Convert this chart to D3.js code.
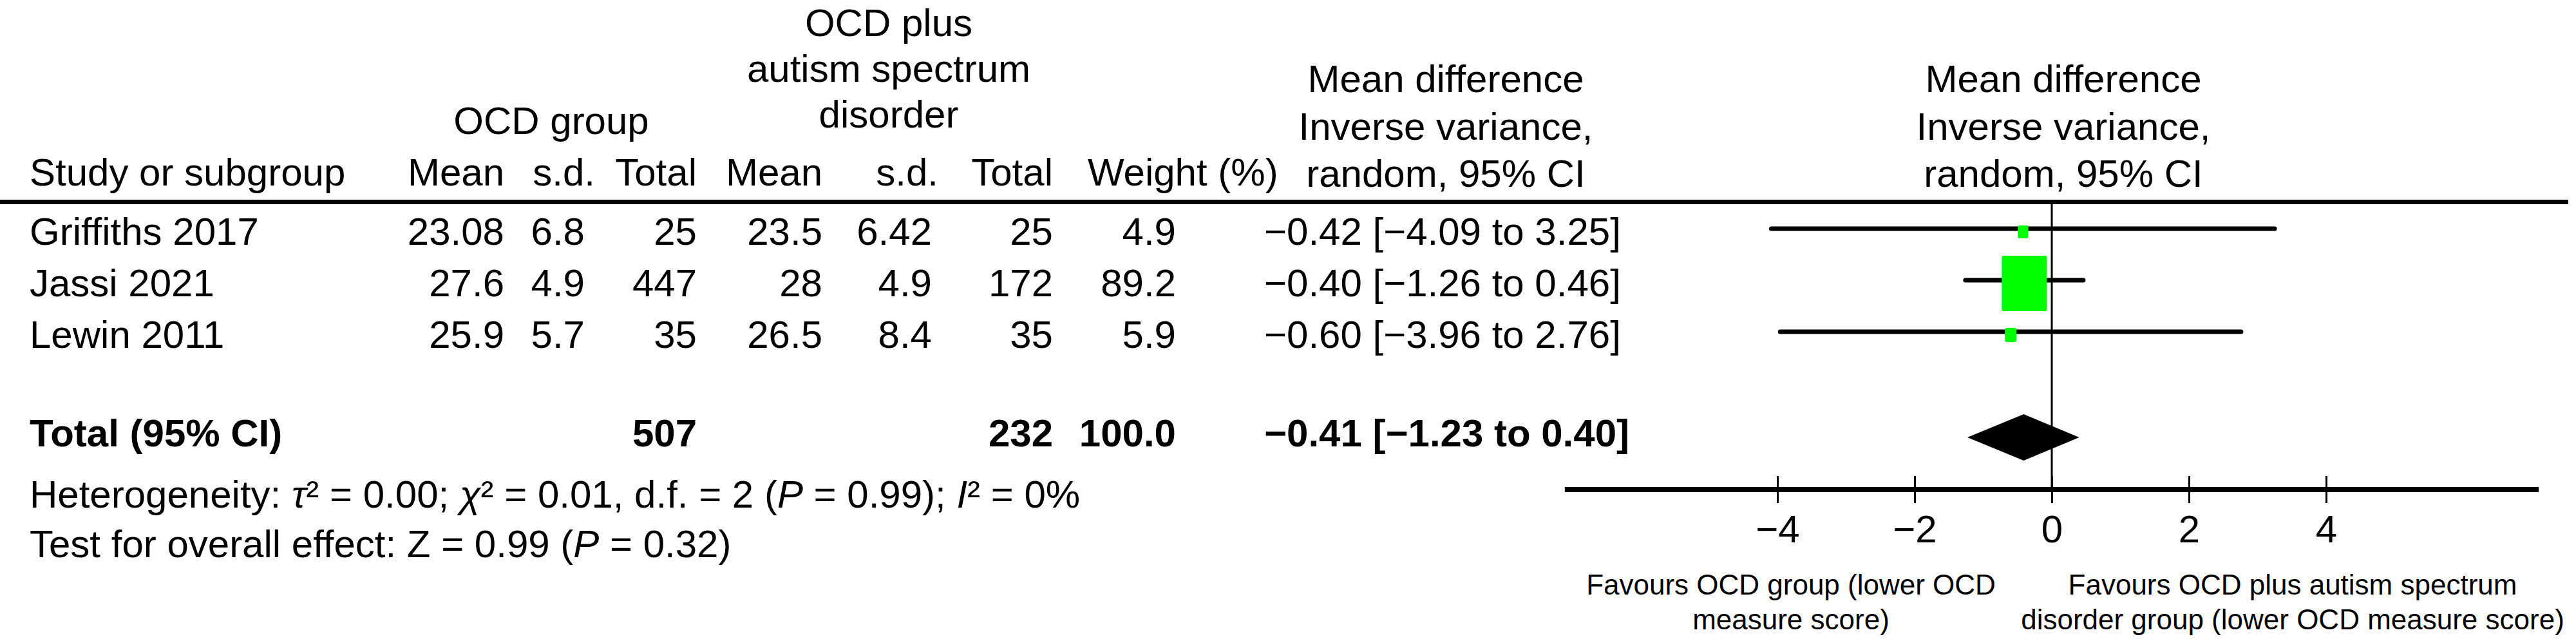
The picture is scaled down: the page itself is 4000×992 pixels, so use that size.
<!DOCTYPE html>
<html>
<head>
<meta charset="utf-8">
<script src="https://cdn.jsdelivr.net/npm/d3@7"></script>
<style>
  body { margin: 0; background: #fff; }
  text { font-family: "Liberation Sans", Arial, sans-serif; fill: #000; }
</style>
</head>
<body>
<div id="forest"></div>
<script>

// data
var studies = ["Griffiths 2017", "Jassi 2021", "Lewin 2011"];
var ocdMean = [23.08, 27.6, 25.9];
var ocdSd = [6.8, 4.9, 5.7];
var ocdN = [25, 447, 35];
var asdMean = [23.5, 28, 26.5];
var asdSd = [6.42, 4.9, 8.4];
var asdN = [25, 172, 35];
var weights = [4.9, 89.2, 5.9];
var meanDiff = [-0.42, -0.40, -0.60];
var ciLow = [-4.09, -1.26, -3.96];
var ciHigh = [3.25, 0.46, 2.76];

var totalOcdN = 507, totalAsdN = 232, totalWeight = 100.0;
var totalMd = -0.41, totalLow = -1.23, totalHigh = 0.40;

var xTicks = [-4, -2, 0, 2, 4];

var W = 4000, H = 992;
var fs = 60;

var svg = d3.select("#forest").append("svg")
    .attr("width", W)
    .attr("height", H);

svg.append("rect").attr("width", W).attr("height", H).attr("fill", "#fff");

var f2 = d3.format(".2f"), f1 = d3.format(".1f");
function ciText(m, lo, hi) {
    return f2(m) + " [" + f2(lo) + " to " + f2(hi) + "]";
}

// row positions (text baselines)
var rowY = d3.scaleLinear().domain([0, 1]).range([380, 460]);
var totalY = 693;

//////////
// HEADERS //
//////////

function label(x, y, txt, anchor, size, weight) {
    return svg.append("text")
        .attr("x", x).attr("y", y)
        .attr("text-anchor", anchor || "start")
        .style("font-size", (size || fs) + "px")
        .style("font-weight", weight || "normal")
        .text(txt);
}

label(856, 208, "OCD group", "middle");
["OCD plus", "autism spectrum", "disorder"].forEach(function (t, i) {
    label(1380, 56 + i * 71, t, "middle");
});
["Mean difference", "Inverse variance,", "random, 95% CI"].forEach(function (t, i) {
    label(2245, 143 + i * 73.5, t, "middle");
    label(3204, 143 + i * 73.5, t, "middle");
});

var headY = 288;
label(46, headY, "Study or subgroup");
label(783, headY, "Mean", "end");
label(924, headY, "s.d.", "end");
label(1082, headY, "Total", "end");
label(1277, headY, "Mean", "end");
label(1457, headY, "s.d.", "end");
label(1635, headY, "Total", "end");
label(1689, headY, "Weight (%)");

// thick rule under header
svg.append("line")
    .attr("x1", 0).attr("x2", 3988)
    .attr("y1", 313.5).attr("y2", 313.5)
    .attr("stroke", "#000").attr("stroke-width", 7);

//////////
// TABLE ROWS //
//////////

var cols = [
    { x: 783, a: "end", v: function (i) { return ocdMean[i]; } },
    { x: 908, a: "end", v: function (i) { return ocdSd[i]; } },
    { x: 1082, a: "end", v: function (i) { return ocdN[i]; } },
    { x: 1277, a: "end", v: function (i) { return asdMean[i]; } },
    { x: 1447, a: "end", v: function (i) { return asdSd[i]; } },
    { x: 1635, a: "end", v: function (i) { return asdN[i]; } },
    { x: 1826, a: "end", v: function (i) { return f1(weights[i]); } },
    { x: 1963, a: "start", v: function (i) { return ciText(meanDiff[i], ciLow[i], ciHigh[i]); } }
];

var rows = svg.selectAll(".row")
    .data(studies)
    .enter()
    .append("g")
    .attr("class", "row")
    .attr("transform", function (d, i) { return "translate(0," + rowY(i) + ")"; });

rows.append("text")
    .attr("x", 46)
    .style("font-size", fs + "px")
    .text(function (d) { return d; });

cols.forEach(function (c) {
    rows.append("text")
        .attr("x", c.x)
        .attr("text-anchor", c.a)
        .style("font-size", fs + "px")
        .text(function (d, i) { return c.v(i); });
});

// total row
label(46, totalY, "Total (95% CI)", "start", fs, "bold");
label(1082, totalY, totalOcdN, "end", fs, "bold");
label(1635, totalY, totalAsdN, "end", fs, "bold");
label(1826, totalY, f1(totalWeight), "end", fs, "bold");
label(1963, totalY, ciText(totalMd, totalLow, totalHigh), "start", fs, "bold");

// heterogeneity and overall effect
var het = svg.append("text").attr("x", 46).attr("y", 788).style("font-size", fs + "px");
[["Heterogeneity: ", 0], ["τ", 1], ["² = 0.00; ", 0], ["χ", 1], ["² = 0.01, d.f. = 2 (", 0],
 ["P", 1], [" = 0.99); ", 0], ["I", 1], ["² = 0%", 0]].forEach(function (p) {
    het.append("tspan").style("font-style", p[1] ? "italic" : "normal").text(p[0]);
});
var ovr = svg.append("text").attr("x", 46).attr("y", 865).style("font-size", fs + "px");
[["Test for overall effect: Z = 0.99 (", 0], ["P", 1], [" = 0.32)", 0]].forEach(function (p) {
    ovr.append("tspan").style("font-style", p[1] ? "italic" : "normal").text(p[0]);
});

//////////
// FOREST PLOT //
//////////

var x = d3.scaleLinear().domain([-4, 4]).range([2760, 3612]);
var axisY = 760;

// zero line
svg.append("line")
    .attr("x1", x(0)).attr("x2", x(0))
    .attr("y1", 317).attr("y2", axisY)
    .attr("stroke", "#000").attr("stroke-width", 3);

// confidence intervals
var ciG = svg.append("g");
ciG.selectAll("line")
    .data(studies)
    .enter()
    .append("line")
    .attr("x1", function (d, i) { return x(ciLow[i]); })
    .attr("x2", function (d, i) { return x(ciHigh[i]); })
    .attr("y1", function (d, i) { return rowY(i) - 25; })
    .attr("y2", function (d, i) { return rowY(i) - 25; })
    .attr("stroke", "#000")
    .attr("stroke-width", 7)
    .attr("stroke-linecap", "round");

// weight squares
var size = d3.scaleSqrt().domain([0, 89.2]).range([0, 70]);
ciG.selectAll("rect")
    .data(studies)
    .enter()
    .append("rect")
    .attr("x", function (d, i) { return x(meanDiff[i]) - size(weights[i]) / 2; })
    .attr("y", function (d, i) { return rowY(i) - 20 - size(weights[i]) * 1.23 / 2; })
    .attr("width", function (d, i) { return size(weights[i]); })
    .attr("height", function (d, i) { return size(weights[i]) * 1.23; })
    .attr("rx", 3)
    .attr("fill", "#00ff00");

// pooled diamond
var dy = 679;
svg.append("path")
    .attr("d", "M" + x(totalLow) + "," + dy +
        "L" + x(totalMd) + "," + (dy - 36) +
        "L" + x(totalHigh) + "," + dy +
        "L" + x(totalMd) + "," + (dy + 36) + "Z")
    .attr("fill", "#000");

// axis
svg.append("line")
    .attr("x1", x(-7.1)).attr("x2", x(7.1))
    .attr("y1", axisY).attr("y2", axisY)
    .attr("stroke", "#000").attr("stroke-width", 8);

var ax = svg.append("g")
    .attr("transform", "translate(0," + axisY + ")")
    .call(d3.axisBottom(x).tickValues(xTicks).tickSize(21));
ax.select(".domain").remove();
ax.selectAll(".tick line")
    .attr("y1", -21).attr("y2", 21)
    .attr("stroke", "#000").attr("stroke-width", 3);
ax.selectAll(".tick text")
    .attr("y", 82).attr("dy", 0)
    .attr("fill", "#000")
    .style("font-size", fs + "px")
    .style("font-family", "Liberation Sans, Arial, sans-serif");

// favours labels
label(2781, 923, "Favours OCD group (lower OCD", "middle", 44);
label(2781, 977, "measure score)", "middle", 44);
label(3560, 923, "Favours OCD plus autism spectrum", "middle", 44);
label(3560, 977, "disorder group (lower OCD measure score)", "middle", 44);

</script>
</body>
</html>
